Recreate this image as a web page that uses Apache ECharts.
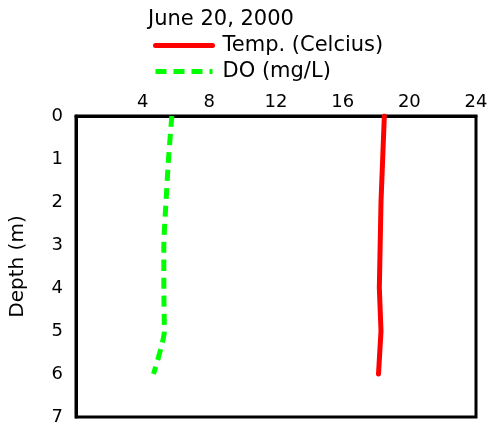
<!DOCTYPE html>
<html><head><meta charset="utf-8">
<script src="https://cdn.jsdelivr.net/npm/echarts@6/dist/echarts.min.js"></script>
<style>html,body{margin:0;padding:0;background:#fff}#c{width:493px;height:426px}</style>
</head><body><div id="c"></div>
<script>
const depths = [0, 1, 2, 3, 4, 5, 6];
const tempValues = [18.5, 18.4, 18.3, 18.25, 18.2, 18.3, 18.15];
const doValues = [5.75, 5.55, 5.4, 5.27, 5.27, 5.3, 4.65];
const xTicks = [0, 4, 8, 12, 16, 20, 24];
const yTicks = [0, 1, 2, 3, 4, 5, 6, 7];
const titleText = 'June 20, 2000';
const seriesNames = ['Temp. (Celcius)', 'DO (mg/L)'];

const font = 'DejaVu Sans';
const chart = echarts.init(document.getElementById('c'), null, {renderer: 'canvas'});
chart.setOption({
  animation: false,
  title: {
    text: titleText, left: 148, top: 9, padding: 0,
    textStyle: {fontFamily: font, fontSize: 21, fontWeight: 'normal', color: '#000'}
  },
  legend: {
    orient: 'vertical', left: 153, top: 35, padding: 0,
    itemWidth: 57, itemHeight: 14, itemGap: 5,
    itemStyle: {opacity: 0},
    lineStyle: {width: 5},
    textStyle: {fontFamily: font, fontSize: 21, color: '#000', padding: [0, 0, 0, 5]},
    data: seriesNames
  },
  grid: {
    left: 75, right: 17, top: 116, bottom: 6,
    show: true, borderColor: '#000', borderWidth: 3, backgroundColor: 'transparent'
  },
  xAxis: {
    type: 'value', position: 'top', min: 0, max: 24, interval: 4,
    axisLine: {show: true, lineStyle: {color: '#000', width: 3}},
    axisTick: {show: false},
    splitLine: {show: false},
    axisLabel: {
      margin: 5, fontFamily: font, fontSize: 18, color: '#000',
      formatter: v => (v === 0 ? '' : (xTicks.includes(v) ? String(v) : ''))
    }
  },
  yAxis: {
    type: 'value', inverse: true, min: 0, max: 7, interval: 1,
    name: 'Depth (m)', nameLocation: 'middle', nameGap: 48, nameRotate: 90,
    nameTextStyle: {fontFamily: font, fontSize: 20, color: '#000'},
    axisLine: {show: true, lineStyle: {color: '#000', width: 3}},
    axisTick: {show: false},
    splitLine: {show: false},
    axisLabel: {
      margin: 13, fontFamily: font, fontSize: 18, color: '#000',
      formatter: v => (yTicks.includes(v) ? String(v) : '')
    }
  },
  series: [
    {
      name: seriesNames[0], type: 'line', symbol: 'none', showSymbol: false, smooth: false,
      data: depths.map((d, i) => [tempValues[i], d]),
      lineStyle: {color: '#ff0000', width: 5, cap: 'round', join: 'round'},
      itemStyle: {color: '#ff0000'}
    },
    {
      name: seriesNames[1], type: 'line', symbol: 'none', showSymbol: false, smooth: 0.2,
      data: depths.map((d, i) => [doValues[i], d]),
      lineStyle: {color: '#00ff00', width: 5, type: [11, 7]},
      itemStyle: {color: '#00ff00'}
    }
  ]
});
</script></body></html>
